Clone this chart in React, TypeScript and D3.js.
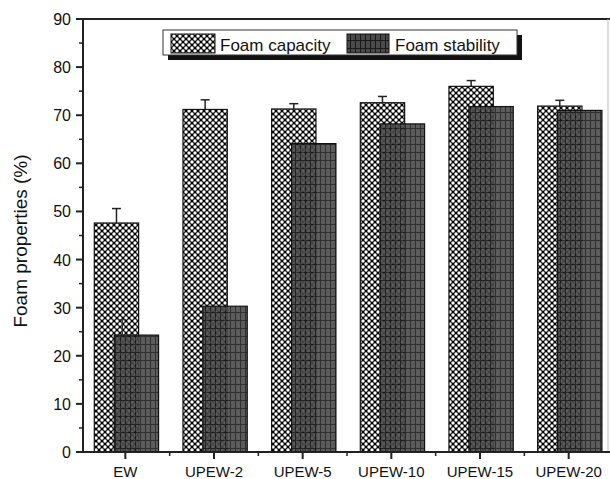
import React from "react";
import * as d3 from "d3";

const categories = ["EW", "UPEW-2", "UPEW-5", "UPEW-10", "UPEW-15", "UPEW-20"];
const capacity = [47.6, 71.2, 71.3, 72.6, 76.0, 71.9];
const capacityErr = [3.0, 2.0, 1.1, 1.3, 1.2, 1.2];
const stability = [24.3, 30.3, 64.1, 68.2, 71.8, 71.0];
const stabilityErr = [3.2, 0, 0, 0, 0, 0];
const yTicks = [0, 10, 20, 30, 40, 50, 60, 70, 80, 90];
const yMinor = [5, 15, 25, 35, 45, 55, 65, 75, 85];

const W = 610;
const H = 479;
const FONT = "'Liberation Sans', Arial, sans-serif";

export default function App() {
  const x = d3.scaleBand<string>().domain(categories).range([81, 613]).padding(0);
  const y = d3.scaleLinear().domain([0, 90]).range([452, 19]);
  const bw = x.bandwidth();
  const axisX = 83;
  const boundaries = categories.slice(1).map((c) => x(c) as number);

  return (
    <svg width={W} height={H} style={{ position: "absolute", left: 0, top: 0, background: "#fff" }}>
      <defs>
        <pattern id="cap" patternUnits="userSpaceOnUse" width={6} height={6}>
          <rect width={6} height={6} fill="#000" />
          <circle cx={0} cy={0} r={1.7} fill="#fff" />
          <circle cx={6} cy={0} r={1.7} fill="#fff" />
          <circle cx={0} cy={6} r={1.7} fill="#fff" />
          <circle cx={6} cy={6} r={1.7} fill="#fff" />
          <circle cx={3} cy={3} r={1.7} fill="#fff" />
        </pattern>
        <pattern id="stab" patternUnits="userSpaceOnUse" width={5} height={8}>
          <rect width={5} height={8} fill="#4a4a4a" />
          <line x1={0.5} y1={0} x2={0.5} y2={8} stroke="#1a1a1a" strokeWidth={1} />
          <line x1={0} y1={0.5} x2={5} y2={0.5} stroke="#1a1a1a" strokeWidth={1} />
        </pattern>
      </defs>

      {/* capacity bars */}
      {categories.map((c, i) => {
        const x0 = (x(c) as number) + bw * 0.15;
        const w = bw * 0.5;
        const top = y(capacity[i]);
        const cx = x0 + w / 2;
        const et = y(capacity[i] + capacityErr[i]);
        return (
          <g key={"c" + c}>
            <line x1={cx} x2={cx} y1={top} y2={et} stroke="#222" strokeWidth={1.5} />
            <line x1={cx - 4.5} x2={cx + 4.5} y1={et} y2={et} stroke="#222" strokeWidth={1.5} />
            <rect x={x0} y={top} width={w} height={y(0) - top} fill="url(#cap)" stroke="#111" strokeWidth={1.2} />
          </g>
        );
      })}
      {/* stability bars */}
      {categories.map((c, i) => {
        const x0 = (x(c) as number) + bw * 0.375;
        const w = bw * 0.5;
        const top = y(stability[i]);
        const cx = x0 + w / 2;
        const et = y(stability[i] + stabilityErr[i]);
        return (
          <g key={"s" + c}>
            <rect x={x0} y={top} width={w} height={y(0) - top} fill="url(#stab)" fillOpacity={0.9} stroke="#111" strokeWidth={1.2} />
            {stabilityErr[i] > 0 && (
              <g>
                <line x1={cx - 14} x2={cx - 14} y1={top} y2={et} stroke="#333" strokeWidth={1.2} />
                <line x1={cx - 18} x2={cx - 10} y1={et} y2={et} stroke="#333" strokeWidth={1.2} />
              </g>
            )}
          </g>
        );
      })}

      {/* frame */}
      <line x1={axisX} x2={W} y1={y(90)} y2={y(90)} stroke="#222" strokeWidth={2} />
      <line x1={608} x2={608} y1={y(90)} y2={y(0)} stroke="#bbb" strokeWidth={1} />
      <line x1={axisX} x2={axisX} y1={y(90)} y2={y(0)} stroke="#222" strokeWidth={2} />
      <line x1={axisX - 7} x2={W} y1={y(0)} y2={y(0)} stroke="#222" strokeWidth={2} />

      {/* y ticks */}
      {yTicks.map((t) => (
        <g key={"yt" + t}>
          <line x1={axisX - 7} x2={axisX} y1={y(t)} y2={y(t)} stroke="#222" strokeWidth={2} />
          <text x={71} y={y(t) + 6} textAnchor="end" fontFamily={FONT} fontSize={16} fill="#111">
            {t}
          </text>
        </g>
      ))}
      {yMinor.map((t) => (
        <line key={"ym" + t} x1={axisX - 4} x2={axisX} y1={y(t)} y2={y(t)} stroke="#222" strokeWidth={1.5} />
      ))}

      {/* x ticks */}
      {categories.map((c) => {
        const cx = (x(c) as number) + bw / 2;
        return (
          <g key={"xt" + c}>
            <line x1={cx} x2={cx} y1={y(0)} y2={y(0) + 7} stroke="#222" strokeWidth={2} />
            <text x={cx} y={477} textAnchor="middle" fontFamily={FONT} fontSize={15} fill="#111">
              {c}
            </text>
          </g>
        );
      })}
      {boundaries.map((b, i) => (
        <line key={"xm" + i} x1={b} x2={b} y1={y(0)} y2={y(0) + 4} stroke="#222" strokeWidth={1.5} />
      ))}

      {/* y label */}
      <text
        transform={`translate(27,241) rotate(-90)`}
        textAnchor="middle"
        fontFamily={FONT}
        fontSize={19}
        fill="#111"
      >
        Foam properties (%)
      </text>

      {/* legend */}
      <rect x={168} y={35} width={354} height={25} fill="#111" />
      <rect x={163} y={30} width={354} height={25} fill="#fff" stroke="#333" strokeWidth={1} />
      <rect x={171} y={34} width={44} height={19} fill="url(#cap)" stroke="#111" strokeWidth={1} />
      <text x={220} y={51} fontFamily={FONT} fontSize={17} fill="#111">
        Foam capacity
      </text>
      <rect x={347} y={34} width={42} height={19} fill="url(#stab)" stroke="#111" strokeWidth={1} />
      <text x={395} y={51} fontFamily={FONT} fontSize={17} fill="#111">
        Foam stability
      </text>
    </svg>
  );
}
